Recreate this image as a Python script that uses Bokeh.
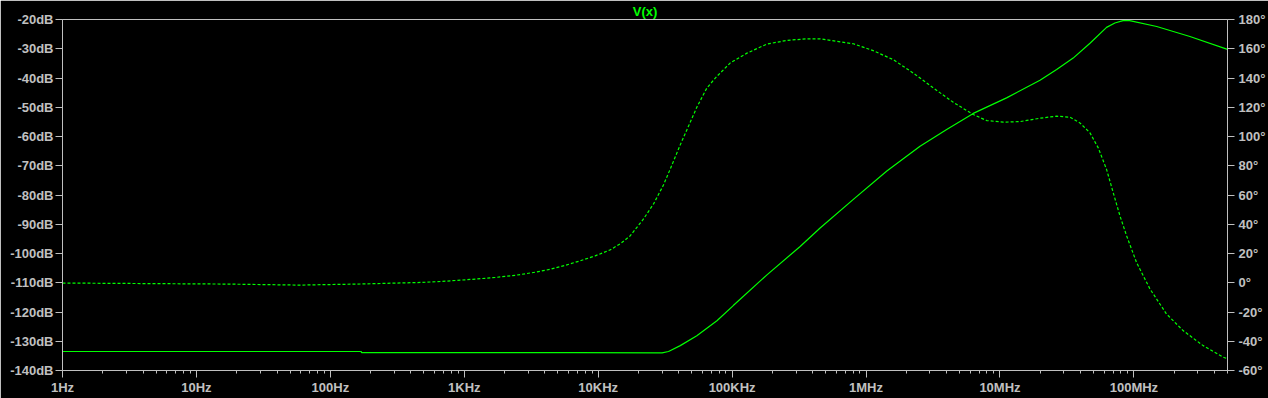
from bokeh.plotting import figure
from bokeh.models import Range1d, LinearAxis, FixedTicker
from bokeh.embed import file_html
from bokeh.resources import INLINE

# ---------------- data ----------------
title_text = "V(x)"

# magnitude trace (solid, left axis, dB)
mag_freq = [1, 170, 171, 6.7e3, 3.0e4, 3.35e4, 4.1e4, 5.45e4, 7.7e4, 1.02e5, 1.82e5,
            3.22e5, 4.54e5, 8.04e5, 1.43e6, 2.53e6, 4.0e6, 6.32e6, 1.12e7, 1.99e7,
            2.65e7, 3.52e7, 4.70e7, 6.25e7, 7.21e7, 8.3e7, 9.3e7, 1.48e8, 2.62e8, 5.0e8]
mag_db = [-133.5, -133.5, -133.9, -133.9, -134.0, -133.5, -131.5, -128.1, -123.0, -117.8, -107.3,
          -97.6, -91.3, -81.5, -71.8, -63.3, -57.6, -52.1, -46.8, -40.8,
          -37.1, -33.2, -28.1, -22.7, -21.2, -20.4, -20.4, -22.4, -25.8, -30.2]

# phase trace (dotted, right axis, degrees)
ph_freq = [1, 16.5, 59, 159, 472, 685, 1.21e3, 1.70e3, 2.40e3, 3.39e3, 4.38e3, 5.67e3,
           7.34e3, 9.50e3, 1.23e4, 1.46e4, 1.73e4, 2.18e4, 2.59e4, 3.07e4, 3.45e4,
           4.09e4, 4.72e4, 5.45e4, 6.48e4, 7.69e4, 9.66e4, 1.29e5, 1.82e5, 2.56e5, 3.61e5,
           4.54e5, 8.04e5, 1.13e6, 1.60e6, 2.25e6, 3.18e6, 4.48e6, 6.32e6, 7.96e6, 1.06e7,
           1.41e7, 1.99e7, 2.65e7, 3.33e7, 3.95e7, 4.70e7, 5.42e7, 6.25e7, 7.01e7, 7.87e7,
           8.83e7, 1.047e8, 1.316e8, 1.75e8, 2.33e8, 3.29e8, 4.64e8, 5.0e8]
ph_deg = [-0.2, -0.9, -1.6, -0.9, 0.2, 0.9, 2.5, 3.6, 5.1, 7.2, 9.2, 11.9,
          15.0, 18.4, 22.5, 26.6, 32.0, 43.6, 53.9, 66.8, 77.7,
          94.1, 107.0, 120.0, 133.2, 141.1, 150.2, 157.0, 163.2, 165.7, 166.8,
          166.8, 163.4, 158.7, 152.5, 143.4, 133.2, 123.4, 115.0, 110.9, 109.8,
          110.2, 112.5, 113.9, 113.2, 109.3, 102.5, 92.2, 77.5, 61.6, 45.7,
          32.0, 13.8, -4.1, -21.3, -32.7, -43.0, -50.9, -52.0]

# axes
x_ticks = [1, 10, 100, 1000, 10000, 100000, 1000000, 10000000, 100000000]
x_tick_labels = ["1Hz", "10Hz", "100Hz", "1KHz", "10KHz", "100KHz", "1MHz", "10MHz", "100MHz"]
x_minor_ticks = [m * d for d in x_ticks for m in range(2, 10) if m * d <= 5e8]
db_ticks = [-140, -130, -120, -110, -100, -90, -80, -70, -60, -50, -40, -30, -20]
db_tick_labels = ["-140dB", "-130dB", "-120dB", "-110dB", "-100dB", "-90dB", "-80dB",
                  "-70dB", "-60dB", "-50dB", "-40dB", "-30dB", "-20dB"]
deg_ticks = [-60, -40, -20, 0, 20, 40, 60, 80, 100, 120, 140, 160, 180]
deg_tick_labels = ["-60°", "-40°", "-20°", "0°", "20°", "40°", "60°", "80°", "100°",
                   "120°", "140°", "160°", "180°"]

# ---------------- style ----------------
GRAY = "#c0c0c0"
GREEN = "#00ff00"
FONT = "Liberation Sans"
FSIZE = "13px"

p = figure(width=1268, height=398, x_axis_type="log",
           x_range=Range1d(1, 5e8), y_range=Range1d(-140, -20),
           output_backend="svg", toolbar_location=None,
           min_border_left=62, min_border_right=40, min_border_top=18, min_border_bottom=28)
p.extra_y_ranges = {"phase": Range1d(-60, 180)}
p.background_fill_color = "black"
p.border_fill_color = "black"
p.outline_line_color = GRAY
p.outline_line_width = 1
p.grid.visible = False

p.title.text = title_text
p.title.align = "center"
p.title.text_color = GREEN
p.title.text_font = FONT
p.title.text_font_size = FSIZE
p.title.text_font_style = "bold"
p.title.standoff = 2

right_axis = LinearAxis(y_range_name="phase")
p.add_layout(right_axis, "right")

xa = p.xaxis[0]
xa.ticker = FixedTicker(ticks=x_ticks, minor_ticks=x_minor_ticks)
xa.major_label_overrides = dict(zip(x_ticks, x_tick_labels))
xa.major_tick_out = 7
xa.major_tick_in = 0
xa.minor_tick_out = 3
xa.minor_tick_in = 0
xa.major_label_standoff = 2

ya = p.yaxis[0]
ya.ticker = FixedTicker(ticks=db_ticks)
ya.major_label_overrides = dict(zip(db_ticks, db_tick_labels))
ya.major_tick_out = 7
ya.major_tick_in = 0
ya.major_label_standoff = 2

right_axis.ticker = FixedTicker(ticks=deg_ticks)
right_axis.major_label_overrides = dict(zip(deg_ticks, deg_tick_labels))
right_axis.major_tick_out = 7
right_axis.major_tick_in = 0
right_axis.major_label_standoff = 4

for ax in (xa, ya, right_axis):
    ax.axis_line_color = GRAY
    ax.major_tick_line_color = GRAY
    ax.minor_tick_line_color = GRAY
    ax.major_label_text_color = GRAY
    ax.major_label_text_font = FONT
    ax.major_label_text_font_size = FSIZE
    ax.major_label_text_font_style = "bold"
ya.minor_tick_line_color = None
right_axis.minor_tick_line_color = None

p.line(mag_freq, mag_db, line_color=GREEN, line_width=1.2)
p.line(ph_freq, ph_deg, y_range_name="phase", line_color=GREEN, line_width=1.2, line_dash="3 2")

open("out.html", "w").write(file_html(p, INLINE))
